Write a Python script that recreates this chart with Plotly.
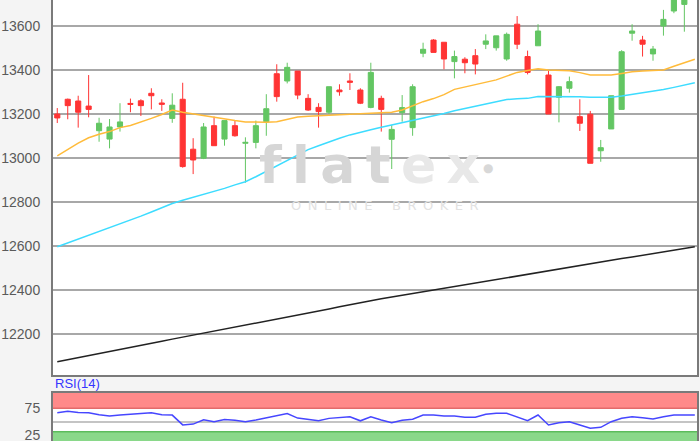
import plotly.graph_objects as go

# ---------------- data ----------------
opens = [13200, 13267, 13259, 13236, 13124, 13086, 13141, 13248, 13260, 13294,
         13250, 13180, 13267, 13040, 12999, 13147, 13086, 13147, 13067, 13071,
         13165, 13383, 13350, 13395, 13271, 13230, 13208, 13309, 13350, 13309,
         13230, 13271, 13085, 13206, 13138, 13476, 13536, 13526, 13438, 13449,
         13465, 13517, 13501, 13450, 13608, 13461, 13510, 13377, 13276, 13317,
         13188, 13199, 13033, 13132, 13221, 13567, 13536, 13473, 13600, 13668,
         13698]
highs = [13227, 13270, 13283, 13377, 13183, 13177, 13249, 13270, 13267, 13317,
         13267, 13294, 13342, 13090, 13159, 13188, 13170, 13170, 13094, 13170,
         13290, 13426, 13433, 13395, 13290, 13249, 13324, 13335, 13385, 13317,
         13433, 13283, 13150, 13286, 13335, 13524, 13540, 13526, 13488, 13458,
         13495, 13562, 13555, 13570, 13645, 13488, 13608, 13397, 13327, 13370,
         13267, 13214, 13082, 13283, 13490, 13608, 13555, 13509, 13673, 13760,
         13770]
lows = [13159, 13176, 13138, 13185, 13074, 13044, 13120, 13208, 13191, 13221,
        13214, 13160, 12956, 12927, 12995, 13056, 13056, 13097, 12888, 13044,
        13101, 13256, 13339, 13267, 13214, 13138, 13200, 13283, 13309, 13245,
        13226, 13120, 12950, 13165, 13101, 13458, 13480, 13403, 13362, 13385,
        13380, 13495, 13488, 13442, 13495, 13380, 13510, 13200, 13162, 13297,
        13123, 12976, 12983, 13132, 13221, 13533, 13461, 13442, 13556, 13658,
        13574]
closes = [13182, 13238, 13208, 13221, 13158, 13141, 13164, 13244, 13238, 13283,
          13244, 13240, 12961, 12991, 13141, 13056, 13170, 13101, 13071, 13147,
          13224, 13279, 13412, 13286, 13218, 13211, 13324, 13301, 13344, 13249,
          13389, 13221, 13130, 13229, 13324, 13494, 13480, 13450, 13461, 13433,
          13427, 13532, 13555, 13562, 13517, 13389, 13577, 13200, 13324, 13347,
          13158, 12976, 13047, 13283, 13483, 13577, 13517, 13495, 13630, 13735,
          13740]

ma_fast = [13010, 13040, 13068, 13092, 13108, 13120, 13138, 13148, 13163, 13180,
           13198, 13218, 13208, 13200, 13192, 13185, 13178, 13170, 13164, 13163,
           13163, 13165, 13176, 13186, 13190, 13192, 13195, 13198, 13199, 13200,
           13201, 13203, 13208, 13218, 13236, 13256, 13270, 13288, 13312, 13322,
           13332, 13343, 13355, 13372, 13389, 13398, 13405, 13400, 13398, 13396,
           13388, 13377, 13377, 13377, 13384, 13392, 13395, 13398, 13400, 13417,
           13433, 13449]
ma_mid = [12597, 12614, 12632, 12650, 12667, 12684, 12701, 12718, 12736, 12755,
          12775, 12793, 12808, 12821, 12833, 12846, 12862, 12878, 12892, 12915,
          12940, 12962, 12990, 13015, 13038, 13056, 13074, 13090, 13105, 13118,
          13128, 13140, 13150, 13160, 13172, 13182, 13192, 13202, 13215, 13225,
          13235, 13246, 13256, 13266, 13269, 13271, 13280, 13280, 13279, 13279,
          13278, 13276, 13276, 13276, 13282, 13289, 13295, 13301, 13311, 13321,
          13332, 13342]
ma_slow = [12074, 12083, 12093, 12102, 12112, 12120, 12130, 12139, 12149, 12158,
           12167, 12177, 12186, 12195, 12204, 12213, 12221, 12230, 12239, 12248,
           12257, 12266, 12276, 12285, 12295, 12304, 12314, 12324, 12334, 12343,
           12351, 12360, 12368, 12376, 12385, 12393, 12402, 12410, 12418, 12426,
           12434, 12441, 12449, 12457, 12465, 12473, 12480, 12488, 12496, 12504,
           12512, 12519, 12527, 12535, 12543, 12550, 12558, 12566, 12574, 12582,
           12589, 12597]
rsi = [67, 69.5, 67.5, 67, 63, 61, 62.5, 64.5, 65.5, 67,
       63, 62.5, 44.5, 46, 54, 50.5, 54.5, 53, 50.5, 53.5,
       57.5, 61, 65.5, 57, 55, 52, 56.5, 57.7, 59.5, 52,
       59.5, 53.5, 48.5, 53, 55, 62.5, 62.5, 61, 61, 58.5,
       58.5, 64, 65.8, 65.8, 59.6, 52.2, 62.7, 44.3, 48.5, 50.4,
       44.3, 38.2, 40, 50.4, 56.6, 59.6, 57.7, 55.3, 59.6, 62.7,
       62.7, 62.7]

price_ticks = [12200, 12400, 12600, 12800, 13000, 13200, 13400, 13600]
rsi_ticks = [25, 75]
rsi_upper = 75
rsi_mid = 50
rsi_lower = 32

# ---------------- styling ----------------
GREEN = "#63c663"
RED = "#ff3434"
FONT = "Liberation Sans, Arial, sans-serif"

idx = list(range(len(opens)))
idx_line = list(range(len(ma_fast)))
x_range = [-0.41, 61.21]

fig = go.Figure()

fig.add_trace(go.Scatter(x=idx_line, y=ma_slow, mode="lines",
                         line=dict(color="#222222", width=1.5), xaxis="x", yaxis="y"))
fig.add_trace(go.Scatter(x=idx_line, y=ma_mid, mode="lines",
                         line=dict(color="#3ddcff", width=1.5), xaxis="x", yaxis="y"))
fig.add_trace(go.Scatter(x=idx_line, y=ma_fast, mode="lines",
                         line=dict(color="#ffbb3a", width=1.5), xaxis="x", yaxis="y"))
fig.add_trace(go.Candlestick(
    x=idx, open=opens, high=highs, low=lows, close=closes,
    increasing=dict(line=dict(color=GREEN, width=1), fillcolor=GREEN),
    decreasing=dict(line=dict(color=RED, width=1), fillcolor=RED),
    whiskerwidth=0, xaxis="x", yaxis="y"))

fig.add_trace(go.Scatter(x=idx_line, y=rsi, mode="lines",
                         line=dict(color="#4646ff", width=1.5), xaxis="x2", yaxis="y2"))

shapes = [
    dict(type="rect", xref="x2 domain", yref="y2", x0=0, x1=1, y0=rsi_upper, y1=110,
         fillcolor="#ff8a8a", line=dict(width=0), layer="below"),
    dict(type="line", xref="x2 domain", yref="y2", x0=0, x1=1, y0=rsi_upper, y1=rsi_upper,
         line=dict(color="#e36b6b", width=1.5), layer="below"),
    dict(type="rect", xref="x2 domain", yref="y2", x0=0, x1=1, y0=0, y1=rsi_lower,
         fillcolor="#8ad88a", line=dict(width=0), layer="below"),
    dict(type="line", xref="x2 domain", yref="y2", x0=0, x1=1, y0=rsi_lower, y1=rsi_lower,
         line=dict(color="#5cbc5c", width=1.5), layer="below"),
    dict(type="line", xref="x2 domain", yref="y2", x0=0, x1=1, y0=rsi_mid, y1=rsi_mid,
         line=dict(color="#b0b0b0", width=1.5), layer="below"),
]

annotations = [
    dict(text="RSI(14)", xref="paper", yref="paper", x=0, y=1 - 383 / 441,
         xanchor="left", yanchor="middle", showarrow=False,
         font=dict(family=FONT, size=13, color="#3535ff")),
    dict(text="<span style='color:#d6d6d6'>f\u2009l\u2009a\u2009t</span>"
              "<span style='color:#e8e8e8'>\u2009e\u2009x</span>",
         xref="paper", yref="paper", x=(369 - 53) / 644, y=1 - 165 / 441,
         xanchor="center", yanchor="middle", showarrow=False,
         font=dict(family="DejaVu Sans", size=52, color="#d6d6d6", weight="bold")),
    dict(text="\u25cf", xref="paper", yref="paper", x=(488 - 53) / 644, y=1 - 168 / 441,
         xanchor="center", yanchor="middle", showarrow=False,
         font=dict(family="DejaVu Sans", size=12, color="#d8d8d8")),
    dict(text="O\u2002N\u2002L\u2002I\u2002N\u2002E\u2002\u2002\u2002B\u2002R\u2002O\u2002K\u2002E\u2002R",
         xref="paper", yref="paper", x=(384 - 53) / 644, y=1 - 206 / 441,
         xanchor="center", yanchor="middle", showarrow=False,
         font=dict(family="DejaVu Sans", size=13, color="#e2e2e2")),
]

axis_common = dict(linecolor="#7a7a7a", linewidth=2, showline=True, mirror=True,
                   zeroline=False)

fig.update_layout(
    width=700, height=441,
    margin=dict(l=53, r=3, t=0, b=0, autoexpand=False),
    paper_bgcolor="#f4f4f4", plot_bgcolor="#ffffff",
    showlegend=False,
    font=dict(family=FONT, size=14, color="#5a5a5a"),
    xaxis=dict(range=x_range, domain=[0, 1], anchor="y", showgrid=False,
               showticklabels=False, ticks="", rangeslider=dict(visible=False),
               **axis_common),
    yaxis=dict(range=[12014, 13718], domain=[(441 - 375) / 441, 1], anchor="x",
               tickvals=price_ticks, ticktext=[str(v) for v in price_ticks],
               showgrid=True, gridcolor="#a8a8a8", gridwidth=1.5,
               ticks="outside", ticklen=8, tickcolor="rgba(0,0,0,0)",
               ticklabeloverflow="allow",
               tickfont=dict(family=FONT, size=14, color="#5a5a5a"),
               **axis_common),
    xaxis2=dict(range=x_range, domain=[0, 1], anchor="y2", showgrid=False,
                showticklabels=False, ticks="", **axis_common),
    yaxis2=dict(range=[14.9, 103.7], domain=[0, (441 - 392.7) / 441], anchor="x2",
                tickvals=rsi_ticks, ticktext=[str(v) for v in rsi_ticks],
                showgrid=False, ticks="outside", ticklen=8, tickcolor="rgba(0,0,0,0)",
                ticklabeloverflow="allow",
                tickfont=dict(family=FONT, size=14, color="#5a5a5a"),
                **axis_common),
    shapes=shapes,
    annotations=annotations,
)

fig.write_html("out.html", config={"displayModeBar": False},
               post_script="document.body.style.margin='0';document.body.style.overflow='hidden';")
